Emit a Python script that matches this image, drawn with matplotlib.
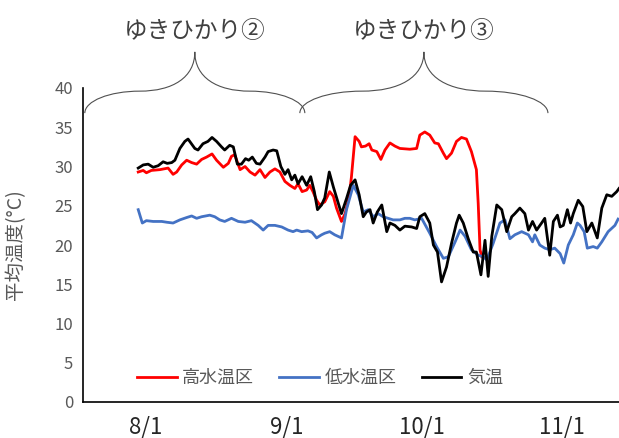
import matplotlib
matplotlib.use("Agg")
import matplotlib.pyplot as plt
from matplotlib.path import Path
from matplotlib.patches import PathPatch

plt.rcParams['font.family'] = ['Noto Sans CJK JP', 'DejaVu Sans']

# days counted from 8/1
tick_days = [0, 31, 61, 92]
tick_labels = ['8/1', '9/1', '10/1', '11/1']

# 高水温区 (red)
high_day = [-1.7, -0.6, 0.1, 1.2, 3.1, 4.9, 6.0, 6.8, 7.9, 9.0, 10.1, 11.2, 12.3, 13.4,
            14.6, 15.6, 17.1, 18.2, 18.9, 19.6, 20.8, 21.9, 23.0, 24.1, 25.2, 26.3, 27.4,
            28.5, 29.6, 30.7, 31.8, 32.9, 33.6, 34.5, 35.5, 36.2, 36.9, 37.7, 38.4, 39.5,
            40.6, 41.4, 42.1, 43.2, 44.0, 44.9, 45.4, 46.2, 47.1, 47.6, 48.5, 49.3, 49.9,
            51.0, 51.9, 52.8, 53.9, 55.0, 56.1, 58.3, 59.8, 60.5, 61.6, 62.7, 63.8, 64.6,
            65.7, 66.4, 67.5, 68.6, 69.7, 70.8, 71.9, 73.0, 73.4, 73.8, 74.2]
high_temp = [29.3, 29.5, 29.2, 29.5, 29.6, 29.8, 29.0, 29.3, 30.2, 30.8, 30.5, 30.3, 30.9, 31.2,
             31.6, 30.8, 29.9, 30.4, 31.3, 31.5, 29.6, 30.0, 29.3, 28.9, 29.6, 28.6, 29.3,
             29.7, 29.3, 28.1, 27.6, 27.2, 27.8, 26.8, 27.0, 27.6, 26.8, 25.7, 25.1, 25.5,
             26.8, 26.2, 24.7, 23.0, 24.0, 26.2, 28.7, 33.8, 33.2, 32.5, 32.6, 32.9, 32.1,
             31.9, 30.9, 32.1, 33.0, 32.6, 32.3, 32.2, 32.3, 34.0, 34.4, 34.0, 33.0, 32.9,
             31.7, 31.0, 31.7, 33.2, 33.7, 33.5, 31.9, 29.6, 25.3, 19.4, 18.5]

# 低水温区 (blue)
low_day = [-1.7, -0.8, 0.1, 1.6, 3.5, 4.6, 6.0, 7.5, 9.0, 10.1, 11.2, 12.3, 14.1, 15.2,
           16.3, 17.4, 18.9, 20.4, 21.9, 23.3, 24.8, 25.9, 27.0, 28.5, 30.0, 31.4, 32.5,
           33.3, 34.4, 35.8, 36.7, 37.7, 38.8, 39.5, 40.6, 41.7, 43.2, 44.3, 45.8, 46.9,
           48.0, 49.1, 50.2, 51.3, 52.4, 53.5, 54.6, 56.1, 57.2, 58.3, 59.4, 60.9, 62.7,
           64.2, 65.7, 66.8, 68.3, 69.4, 70.5, 71.9, 73.4, 74.5, 75.3, 76.7, 78.2, 79.3,
           80.4, 81.5, 83.0, 84.5, 85.4, 85.9, 87.0, 88.1, 89.2, 90.3, 91.5, 92.3, 93.3,
           94.4, 95.3, 95.9, 96.8, 97.5, 98.8, 99.7, 100.7, 102.1, 103.6, 104.3]
low_temp = [24.5, 22.8, 23.1, 23.0, 23.0, 22.9, 22.8, 23.2, 23.5, 23.7, 23.4, 23.6, 23.8, 23.6,
            23.2, 23.0, 23.4, 23.0, 22.9, 23.1, 22.5, 21.9, 22.5, 22.5, 22.3, 21.9, 21.7,
            21.9, 21.7, 21.8, 21.6, 20.9, 21.3, 21.5, 21.7, 21.3, 20.9, 24.5, 27.6, 26.4,
            24.2, 24.5, 23.6, 24.0, 23.6, 23.4, 23.2, 23.2, 23.4, 23.4, 23.2, 23.4, 21.5,
            19.8, 18.3, 18.5, 20.4, 21.9, 21.1, 19.4, 18.7, 18.5, 18.1, 20.2, 22.8, 23.2,
            20.8, 21.3, 21.7, 21.3, 20.4, 21.3, 20.0, 19.6, 19.4, 19.6, 18.9, 17.7, 20.0,
            21.3, 22.8, 22.5, 21.7, 19.6, 19.8, 19.6, 20.4, 21.7, 22.5, 23.3]

# 気温 (black)
air_day = [-1.7, -0.6, 0.5, 1.6, 2.7, 3.8, 4.7, 5.7, 6.4, 7.5, 8.6, 9.3, 10.8, 11.5, 12.6,
           13.7, 14.6, 15.6, 16.7, 17.4, 18.5, 19.3, 20.2, 21.1, 22.0, 22.7, 23.5, 24.4,
           25.2, 26.3, 27.0, 28.1, 28.9, 29.8, 30.7, 31.4, 32.2, 32.9, 33.6, 34.5, 35.5,
           36.4, 37.2, 37.9, 38.8, 39.5, 40.5, 41.4, 42.5, 43.2, 44.3, 45.2, 46.2, 47.1,
           48.0, 48.7, 49.5, 50.2, 51.1, 52.1, 53.2, 53.9, 55.0, 56.1, 57.2, 58.7, 59.8,
           60.5, 61.6, 62.7, 63.5, 64.4, 65.3, 66.4, 67.5, 68.6, 69.2, 70.1, 71.2, 72.3,
           73.0, 74.0, 74.9, 75.6, 76.4, 77.5, 78.6, 79.7, 80.8, 81.5, 82.6, 83.7, 84.5,
           85.4, 86.3, 87.4, 88.1, 89.2, 90.0, 90.9, 91.5, 92.2, 93.1, 93.8, 94.4, 95.5,
           96.5, 97.4, 98.5, 99.7, 100.7, 101.8, 102.9, 104.0, 104.5]
air_temp = [29.8, 30.2, 30.3, 29.9, 30.1, 30.6, 30.4, 30.5, 30.8, 32.3, 33.2, 33.5, 32.3, 32.1,
            32.9, 33.2, 33.7, 33.2, 32.5, 32.1, 32.7, 32.5, 30.3, 30.3, 31.0, 30.8, 31.2,
            30.4, 30.3, 31.2, 31.9, 32.1, 32.0, 30.0, 29.0, 29.6, 28.3, 28.9, 27.8, 28.7,
            27.6, 28.7, 26.8, 24.5, 25.1, 26.0, 29.3, 27.4, 25.3, 24.0, 25.9, 27.6, 28.3,
            26.4, 23.6, 24.2, 24.5, 22.8, 24.2, 25.1, 21.7, 22.8, 22.5, 21.9, 22.4, 22.3,
            22.1, 23.6, 24.0, 22.8, 20.0, 19.1, 15.3, 17.2, 20.2, 22.8, 23.8, 22.8, 20.8,
            19.1, 19.1, 16.2, 20.6, 16.0, 21.1, 25.1, 24.5, 21.7, 23.6, 24.0, 24.7, 24.0,
            21.9, 23.0, 21.9, 22.8, 23.4, 18.7, 23.0, 23.8, 22.3, 22.5, 24.5, 22.8, 24.0,
            25.7, 24.9, 21.7, 22.8, 20.9, 24.7, 26.4, 26.2, 26.8, 27.2]

# growing periods shown with braces above the plot
period_labels = ['ゆきひかり②', 'ゆきひかり③']
period_start = [-13.5, 34.0]
period_end = [35.1, 88.8]


def draw_brace(ax, x0, x1, label):
    tr = ax.get_xaxis_transform()
    w = x1 - x0
    xc = (x0 + x1) / 2
    tip, mid, peak = 0.920, 0.990, 1.115
    a = 0.25 * w
    k = 0.552
    verts = [
        (x0, tip),
        (x0, tip + k * (mid - tip)), (x0 + a * (1 - k), mid), (x0 + a, mid),
        (x0 + a + 0.6 * (xc - x0 - a), mid), (xc, mid + 0.35 * (peak - mid)), (xc, peak),
        (xc, mid + 0.35 * (peak - mid)), (x1 - a - 0.6 * (xc - x0 - a), mid), (x1 - a, mid),
        (x1 - a * (1 - k), mid), (x1, tip + k * (mid - tip)), (x1, tip),
    ]
    codes = [Path.MOVETO] + [Path.CURVE4] * 12
    ax.add_patch(PathPatch(Path(verts, codes), fill=False, ec='#505050', lw=0.8,
                           transform=tr, clip_on=False))
    ax.text(xc, 1.18, label, transform=tr, ha='center', va='center',
            fontsize=17, color='#404040', clip_on=False)


fig = plt.figure(figsize=(6.19, 4.38), dpi=100)
ax = fig.add_axes([83 / 619, 36 / 438, 536 / 619, 314 / 438])

ax.plot(high_day, high_temp, color='#FF0000', lw=2.0, label='高水温区')
ax.plot(low_day, low_temp, color='#4472C4', lw=2.0, label='低水温区')
ax.plot(air_day, air_temp, color='#000000', lw=2.0, label='気温')

ax.set_xlim(-13.9, 104.5)
ax.set_ylim(0, 40)
ax.set_yticks(range(0, 41, 5))
ax.set_xticks(tick_days)
ax.set_xticklabels(tick_labels)
ax.tick_params(axis='y', length=0, pad=7, labelsize=12, labelcolor='#595959')
ax.tick_params(axis='x', length=0, pad=10, labelsize=16, labelcolor='#262626')

for s in ['top', 'right']:
    ax.spines[s].set_visible(False)
for s in ['left', 'bottom']:
    ax.spines[s].set_linewidth(1.2)
    ax.spines[s].set_color('black')

ax.set_ylabel('平均温度(°C)', fontsize=14, color='#595959')
ax.yaxis.set_label_coords(-0.106, 0.5)

ax.legend(loc='center', bbox_to_anchor=(0.442, 0.076), ncol=3, frameon=False,
          fontsize=13, labelcolor='#595959', handlelength=2.2, handletextpad=0.3,
          columnspacing=1.4)

for lab, s, e in zip(period_labels, period_start, period_end):
    draw_brace(ax, s, e, lab)

fig.savefig('out.png', dpi=100)
